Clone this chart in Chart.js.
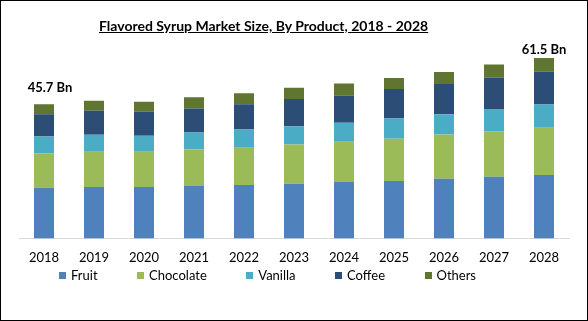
<!DOCTYPE html>
<html>
<head>
<meta charset="utf-8">
<script src="https://cdn.jsdelivr.net/npm/chart.js@4.4.0/dist/chart.umd.min.js"></script>
<style>
  html, body { margin: 0; padding: 0; background: #fff; }
  #frame { position: relative; width: 588px; height: 321px; overflow: hidden; background: #fff; }
  #chart { position: absolute; left: 0; top: 0; }
  #border { position: absolute; left: 0; top: 0; right: 0; bottom: 0; border: 1px solid #000; box-sizing: border-box; pointer-events: none; }
  #title { position: absolute; top: 17px; left: 99px; white-space: nowrap; font: bold 14px Lato, sans-serif; color: #000; text-decoration: underline; }
  #legend { position: absolute; top: 267px; left: 59px; display: flex; font: 13px Lato, sans-serif; color: #000; }
  #legend .item { display: flex; align-items: center; margin-right: 39.5px; }
  #legend .box { width: 7px; height: 7px; margin-right: 5px; }
</style>
</head>
<body>
<div id="frame">
  <canvas id="chart" width="588" height="321"></canvas>
  <div id="title">Flavored Syrup Market Size, By Product, 2018 - 2028</div>
  <div id="legend"></div>
  <div id="border"></div>
</div>
<script>
  // Datos (Bn USD)
  const years = ["2018", "2019", "2020", "2021", "2022", "2023", "2024", "2025", "2026", "2027", "2028"];
  const fruit = [17.3, 17.5, 17.5, 17.9, 18.2, 18.6, 19.2, 19.6, 20.3, 21.0, 21.6];
  const chocolate = [11.6, 12.0, 12.0, 12.4, 12.7, 13.4, 13.7, 14.4, 15.1, 15.5, 16.1];
  const vanilla = [5.8, 5.8, 5.5, 5.8, 6.2, 6.2, 6.5, 6.9, 6.9, 7.6, 7.9];
  const coffee = [7.6, 8.2, 8.2, 8.2, 8.6, 9.3, 9.3, 10.0, 10.3, 10.7, 11.3];
  const others = [3.4, 3.4, 3.4, 3.8, 3.8, 3.8, 4.1, 3.8, 4.1, 4.5, 4.6];
  const totalLabels = ["45.7 Bn", "", "", "", "", "", "", "", "", "", "61.5 Bn"];

  const series = [
    { label: "Fruit", data: fruit, color: "#4f81bd" },
    { label: "Chocolate", data: chocolate, color: "#9bbb59" },
    { label: "Vanilla", data: vanilla, color: "#4bacc6" },
    { label: "Coffee", data: coffee, color: "#2c4d75" },
    { label: "Others", data: others, color: "#5f7530" },
  ];

  // Leyenda HTML
  const legendEl = document.getElementById("legend");
  series.forEach((s) => {
    const item = document.createElement("div");
    item.className = "item";
    const box = document.createElement("span");
    box.className = "box";
    box.style.background = s.color;
    const txt = document.createElement("span");
    txt.textContent = s.label;
    item.appendChild(box);
    item.appendChild(txt);
    legendEl.appendChild(item);
  });

  // Etiquetas de total sobre las barras
  const totalsPlugin = {
    id: "totals",
    afterDatasetsDraw(chart) {
      const ctx = chart.ctx;
      const meta = chart.getDatasetMeta(chart.data.datasets.length - 1);
      ctx.save();
      ctx.font = "bold 13px Lato, sans-serif";
      ctx.fillStyle = "#000";
      ctx.textAlign = "center";
      ctx.textBaseline = "middle";
      totalLabels.forEach((t, i) => {
        if (!t) return;
        const bar = meta.data[i];
        const dx = i === 0 ? 6 : 0;
        const dy = i === 0 ? 16 : 8;
        ctx.fillText(t, bar.x + dx, bar.y - dy);
      });
      ctx.restore();
    },
  };

  new Chart(document.getElementById("chart").getContext("2d"), {
    type: "bar",
    data: {
      labels: years,
      datasets: series.map((s) => ({
        label: s.label,
        data: s.data,
        backgroundColor: s.color,
        borderWidth: 0,
        categoryPercentage: 1,
        barPercentage: 0.4,
      })),
    },
    options: {
      responsive: false,
      animation: false,
      layout: { padding: { top: 33, bottom: 51, left: 19, right: 19 } },
      plugins: {
        legend: { display: false },
        tooltip: { enabled: false },
      },
      scales: {
        x: {
          stacked: true,
          grid: { display: false },
          border: { display: true, color: "#d9d9d9" },
          ticks: { color: "#000", padding: 4, font: { family: "Lato", size: 13 } },
        },
        y: {
          stacked: true,
          display: false,
          min: 0,
          max: 70,
        },
      },
    },
    plugins: [totalsPlugin],
  });
</script>
</body>
</html>
